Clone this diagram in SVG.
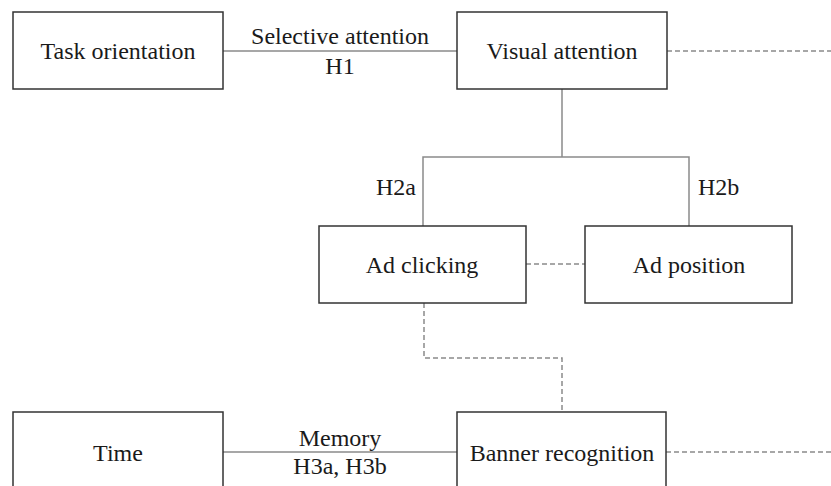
<svg xmlns="http://www.w3.org/2000/svg" width="831" height="486" viewBox="0 0 831 486">
<style>
.box{fill:#fff;stroke:#333;stroke-width:1.5}
.t{font-family:"Liberation Serif","Times New Roman",serif;font-size:24px;fill:#1a1a1a}
.c{text-anchor:middle}
.ln{fill:none;stroke:#8a8a8a;stroke-width:1.5}
.dl{fill:none;stroke:#8a8a8a;stroke-width:1.5;stroke-dasharray:5,3}
</style>
<rect width="831" height="486" fill="#fff"/>
<g id="connectors">
<line class="ln" x1="223" y1="51" x2="457" y2="51"/>
<line class="dl" x1="667" y1="51" x2="831" y2="51"/>
<polyline class="ln" points="562,89 562,157"/>
<polyline class="ln" points="423,226 423,157 689,157 689,226"/>
<line class="dl" x1="526" y1="264" x2="585" y2="264"/>
<polyline class="dl" points="424,303 424,358 562,358 562,412"/>
<line class="ln" x1="223" y1="452" x2="457" y2="452"/>
<line class="dl" x1="666" y1="452" x2="831" y2="452"/>
<text class="t c" x="340" y="44">Selective attention</text>
<text class="t c" x="340" y="74">H1</text>
<text class="t" x="416" y="195" text-anchor="end">H2a</text>
<text class="t" x="698" y="195">H2b</text>
<text class="t c" x="340" y="446">Memory</text>
<text class="t c" x="340" y="474">H3a, H3b</text>
</g>
<g id="task-orientation">
<rect class="box" x="13" y="12" width="210" height="77"/>
<text class="t c" x="118" y="59">Task orientation</text>
</g>
<g id="visual-attention">
<rect class="box" x="457" y="12" width="210" height="77"/>
<text class="t c" x="562" y="59">Visual attention</text>
</g>
<g id="ad-clicking">
<rect class="box" x="319" y="226" width="207" height="77"/>
<text class="t c" x="422" y="273">Ad clicking</text>
</g>
<g id="ad-position">
<rect class="box" x="585" y="226" width="207" height="77"/>
<text class="t c" x="689" y="273">Ad position</text>
</g>
<g id="time">
<rect class="box" x="13" y="412" width="210" height="90"/>
<text class="t c" x="118" y="461">Time</text>
</g>
<g id="banner-recognition">
<rect class="box" x="457" y="412" width="209" height="90"/>
<text class="t c" x="562" y="461">Banner recognition</text>
</g>
</svg>
